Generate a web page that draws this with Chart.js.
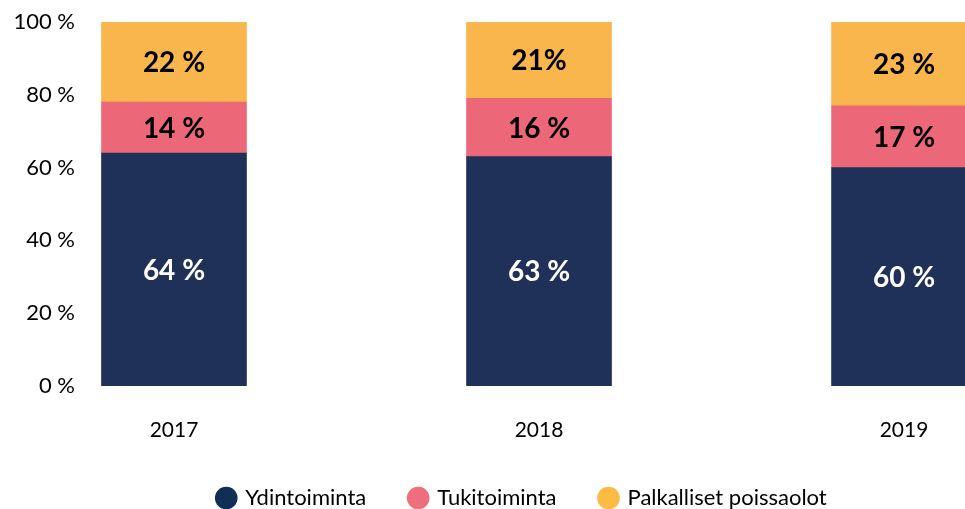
<!DOCTYPE html>
<html>
<head>
<meta charset="utf-8">
<script src="https://cdn.jsdelivr.net/npm/chart.js"></script>
<style>
  html, body { margin: 0; padding: 0; background: #fff; overflow: hidden; }
</style>
</head>
<body>
<canvas id="chart" width="965" height="509"></canvas>
<script>
// Chart data
const years = ['2017', '2018', '2019'];
const ydintoiminta = [64, 63, 60];
const tukitoiminta = [14, 16, 17];
const palkalliset = [22, 21, 23];
const ydinLabels = ['64 %', '63 %', '60 %'];
const tukiLabels = ['14 %', '16 %', '17 %'];
const palkLabels = ['22 %', '21%', '23 %'];
const yTicks = [0, 20, 40, 60, 80, 100];

const barColors = ['#1f3158', '#ec6879', '#f9b64c'];
const legendColors = ['#102e56', '#f06e7b', '#fcbb44'];

const FONT = 'Lato, "Open Sans", sans-serif';

// labels in the middle of each segment
const segmentLabels = {
    id: 'segmentLabels',
    afterDatasetsDraw(chart) {
        const ctx = chart.ctx;
        ctx.save();
        ctx.font = 'bold 28px ' + FONT;
        ctx.textAlign = 'center';
        ctx.textBaseline = 'middle';
        chart.data.datasets.forEach((ds, di) => {
            const meta = chart.getDatasetMeta(di);
            meta.data.forEach((bar, i) => {
                ctx.fillStyle = ds.labelColor;
                ctx.fillText(ds.texts[i], bar.x, (bar.y + bar.base) / 2 + 1);
            });
        });
        ctx.restore();
    }
};

const toPoints = arr => arr.map((v, i) => ({ x: i, y: v }));

new Chart(document.getElementById('chart'), {
    type: 'bar',
    data: {
        datasets: [
            {
                label: 'Ydintoiminta',
                data: toPoints(ydintoiminta),
                texts: ydinLabels,
                labelColor: '#ffffff',
                backgroundColor: barColors[0]
            },
            {
                label: 'Tukitoiminta',
                data: toPoints(tukitoiminta),
                texts: tukiLabels,
                labelColor: '#000000',
                backgroundColor: barColors[1]
            },
            {
                label: 'Palkalliset poissaolot',
                data: toPoints(palkalliset),
                texts: palkLabels,
                labelColor: '#000000',
                backgroundColor: barColors[2]
            }
        ]
    },
    options: {
        responsive: false,
        animation: false,
        barThickness: 145,
        layout: { padding: { top: 22, bottom: -10, left: 0, right: 0 } },
        plugins: {
            tooltip: { enabled: false },
            legend: {
                position: 'bottom',
                fullSize: false,
                labels: {
                    usePointStyle: true,
                    pointStyle: 'circle',
                    boxWidth: 16,
                    boxHeight: 16,
                    padding: 44,
                    color: '#000',
                    font: { family: FONT, size: 22 },
                    generateLabels: chart => chart.data.datasets.map((ds, i) => ({
                        text: ds.label,
                        fillStyle: legendColors[i],
                        strokeStyle: legendColors[i],
                        lineWidth: 0,
                        pointStyle: 'circle',
                        fontColor: '#000',
                        datasetIndex: i,
                        hidden: false
                    }))
                }
            }
        },
        scales: {
            x: {
                type: 'linear',
                stacked: true,
                offset: false,
                min: -0.2575,
                max: 2.167,
                grid: { display: false, offset: false },
                border: { display: false },
                afterBuildTicks: scale => { scale.ticks = years.map((_, i) => ({ value: i })); },
                afterFit: scale => { scale.height = 57; },
                ticks: {
                    padding: 24,
                    color: '#000',
                    font: { family: FONT, size: 21 },
                    callback: v => years[v]
                }
            },
            y: {
                stacked: true,
                min: 0,
                max: 100,
                grid: { display: false },
                border: { display: false },
                afterBuildTicks: scale => { scale.ticks = yTicks.map(v => ({ value: v })); },
                afterFit: scale => { scale.width = 80; },
                ticks: {
                    padding: -3,
                    color: '#000',
                    font: { family: FONT, size: 22 },
                    callback: v => v + ' %'
                }
            }
        }
    },
    plugins: [segmentLabels]
});
</script>
</body>
</html>
